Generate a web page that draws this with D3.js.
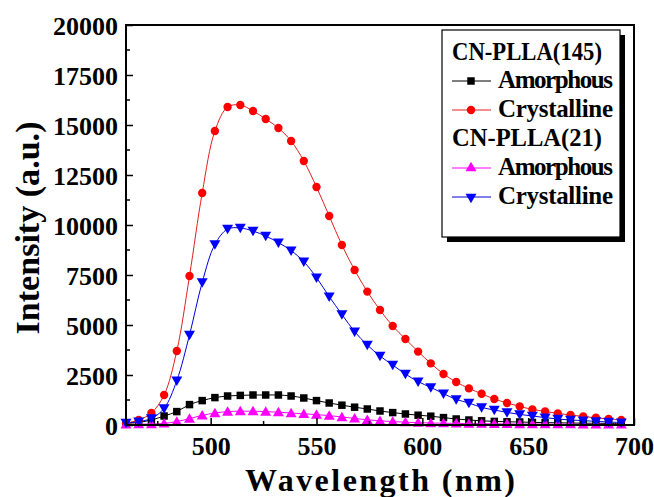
<!DOCTYPE html>
<html>
<head>
<meta charset="utf-8">
<script src="https://cdn.jsdelivr.net/npm/d3@7/dist/d3.min.js"></script>
<style>
  html, body { margin: 0; padding: 0; background: #fff; }
  svg { display: block; }
  svg text { font-family: "Liberation Serif", "Times New Roman", Times, "DejaVu Serif", serif !important; font-weight: 700; fill: #000; }
</style>
</head>
<body>
<svg id="chart" width="654" height="497"></svg>
<script>
// ---------- data ----------
const wavelength = [460,466,472,478,484,490,496,502,508,514,520,526,532,538,544,550,556,562,568,574,
                    580,586,592,598,604,610,616,622,628,634,640,646,652,658,664,670,676,682,688,694];
const amorphous145 = [80,130,250,450,670,1020,1220,1370,1450,1480,1500,1500,1500,1450,1350,1220,1100,990,890,800,
                      700,620,550,490,440,370,300,250,210,180,160,150,130,120,110,100,90,85,80,75];
const crystalline145 = [100,250,600,1500,3700,7450,11600,14700,15900,16000,15700,15300,14850,14200,13200,11900,10450,9000,7750,6670,
                        5750,4950,4300,3670,3080,2550,2150,1830,1560,1300,1100,930,780,680,580,500,430,360,300,250];
const amorphous21 = [30,40,50,80,170,320,480,600,670,690,690,670,640,600,560,520,470,400,330,260,
                     210,170,140,120,100,90,80,70,65,60,55,50,50,45,40,40,35,35,30,30];
const crystalline21 = [100,170,330,830,2220,4500,7130,9030,9800,9850,9700,9450,9120,8720,8170,7370,6420,5530,4670,4000,
                       3450,3000,2550,2170,1880,1570,1280,1100,880,750,630,530,450,370,300,250,220,180,150,120];
const xTicks = [500,550,600,650,700];
const yTicks = [0,2500,5000,7500,10000,12500,15000,17500,20000];
const legendGroups = ["CN-PLLA(145)", "CN-PLLA(21)"];
const legendLabels = ["Amorphous", "Crystalline"];

const series = [
  {name:"Amorphous",  group:0, values:amorphous145,   color:"#000000", line:"#000000", symbol:d3.symbolSquare,   size:56, rot:0},
  {name:"Crystalline",group:0, values:crystalline145, color:"#ff0000", line:"#e02020", symbol:d3.symbolCircle,   size:55, rot:0},
  {name:"Amorphous",  group:1, values:amorphous21,    color:"#ff00ff", line:"#ff00ff", symbol:d3.symbolTriangle, size:52, rot:0},
  {name:"Crystalline",group:1, values:crystalline21,  color:"#0000ff", line:"#0000dd", symbol:d3.symbolTriangle, size:52, rot:180}
];

const FONT = '"Liberation Serif", "Times New Roman", Times, "DejaVu Serif", serif';

// ---------- layout ----------
const svg = d3.select("#chart");
const L = 126, R = 634, T = 25, B = 425;
const x = d3.scaleLinear().domain([460, 700]).range([L, R]);
const y = d3.scaleLinear().domain([0, 20000]).range([B, T]);

// curves
const line = d3.line().x((d,i)=>x(wavelength[i])).y(d=>y(d)).curve(d3.curveCatmullRom.alpha(0.5));
series.forEach(s => {
  svg.append("path").attr("d", line(s.values)).attr("fill","none")
     .attr("stroke", s.line).attr("stroke-width", 1);
});
series.forEach(s => {
  const sym = d3.symbol().type(s.symbol).size(s.size);
  svg.append("g").selectAll("path").data(s.values).join("path")
     .attr("d", sym())
     .attr("transform", (d,i)=>`translate(${x(wavelength[i])},${y(d) + (s.symbol===d3.symbolTriangle ? (s.rot? -1:1) : 0)}) rotate(${s.rot})`)
     .attr("fill", s.color);
});

// frame
svg.append("rect").attr("x", L).attr("y", T).attr("width", R-L).attr("height", B-T)
   .attr("fill","none").attr("stroke","#000").attr("stroke-width",2);

// axes (ticks inward)
const xAxis = d3.axisBottom(x).tickValues(xTicks).tickSize(-7).tickPadding(12).tickFormat(d3.format("d"));
const gx = svg.append("g").attr("transform", `translate(0,${B})`).call(xAxis).attr("font-family", FONT);
gx.select(".domain").remove();
gx.selectAll(".tick line").attr("stroke","#000").attr("stroke-width",1.5);
gx.selectAll(".tick text").attr("font-size", 26).attr("dy","0.71em");
const xMinor = d3.range(475, 700, 50);
svg.append("g").selectAll("line").data(xMinor).join("line")
   .attr("x1", d=>x(d)).attr("x2", d=>x(d)).attr("y1", B).attr("y2", B-4)
   .attr("stroke","#000").attr("stroke-width",1.5);

const yAxis = d3.axisLeft(y).tickValues(yTicks).tickSize(-7).tickPadding(8).tickFormat(d3.format("d"));
const gy = svg.append("g").attr("transform", `translate(${L},0)`).call(yAxis).attr("font-family", FONT);
gy.select(".domain").remove();
gy.selectAll(".tick line").attr("stroke","#000").attr("stroke-width",1.5);
gy.selectAll(".tick text").attr("font-size", 26).attr("dy","0.36em");
const yMinor = d3.range(1250, 20000, 2500);
svg.append("g").selectAll("line").data(yMinor).join("line")
   .attr("x1", L).attr("x2", L+4).attr("y1", d=>y(d)).attr("y2", d=>y(d))
   .attr("stroke","#000").attr("stroke-width",1.5);
svg.selectAll(".tick text").attr("fill","#000").attr("font-weight","bold");

// axis titles
svg.append("text").attr("x", (L+R)/2).attr("y", 491).attr("text-anchor","middle")
   .attr("font-family", FONT).attr("font-size", 32).attr("textLength", 270).attr("lengthAdjust","spacing").text("Wavelength (nm)");
svg.append("text").attr("transform", `translate(39,${(T+B)/2 + 3}) rotate(-90)`).attr("text-anchor","middle")
   .attr("font-family", FONT).attr("font-size", 33).attr("textLength", 213).attr("lengthAdjust","spacingAndGlyphs").text("Intensity (a.u.)");

// legend
const lg = svg.append("g").attr("font-family", FONT);
lg.append("rect").attr("x", 447).attr("y", 35).attr("width", 178).attr("height", 207).attr("fill","#000");
lg.append("rect").attr("x", 442).attr("y", 30).attr("width", 178).attr("height", 207)
  .attr("fill","#fff").attr("stroke","#000").attr("stroke-width",1.2);
const rowY = [60, 88, 117, 146, 175, 204];
legendGroups.forEach((g, gi) => {
  lg.append("text").attr("x", 452).attr("y", rowY[gi*3]).attr("font-size", 25)
    .attr("textLength", 150).attr("lengthAdjust","spacingAndGlyphs").text(g);
  legendLabels.forEach((lab, li) => {
    const s = series[gi*2 + li];
    const yy = rowY[gi*3 + li + 1] - 7;
    lg.append("line").attr("x1", 452).attr("x2", 491).attr("y1", yy).attr("y2", yy)
      .attr("stroke", s.line).attr("stroke-width", 1);
    lg.append("path").attr("d", d3.symbol().type(s.symbol).size(s.size)())
      .attr("transform", `translate(471,${yy}) rotate(${s.rot})`).attr("fill", s.color);
    lg.append("text").attr("x", 498).attr("y", rowY[gi*3 + li + 1]).attr("font-size", 25)
      .attr("textLength", 115).attr("lengthAdjust","spacing").text(lab);
  });
});
</script>
</body>
</html>
